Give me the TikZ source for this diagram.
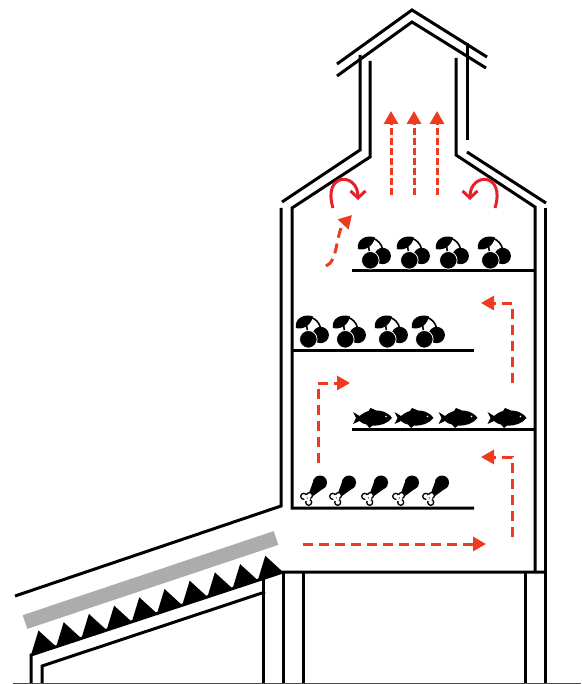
\documentclass[tikz,border=0pt]{standalone}
\usepackage{xcolor}
\usepackage{tikz}
\usetikzlibrary{arrows.meta}
\definecolor{flowRed}{RGB}{238,58,30}
\definecolor{turnRed}{RGB}{232,32,40}
\definecolor{beltGray}{RGB}{172,172,172}
\tikzset{
  wall/.style={black,line width=3pt,line join=miter},
  flow/.style={flowRed,line width=3pt,dash pattern=on 10pt off 6pt,
               -{Triangle[length=13pt,width=14pt]}},
  rise/.style={flowRed,line width=3pt,dash pattern=on 7pt off 3pt,
               -{Triangle[length=13pt,width=14pt]}},
  turn/.style={turnRed,line width=3pt,-{Straight Barb[length=7pt,width=15pt]}},
  cherry/.pic={
    \draw[black,line width=1.6pt] (-2,-30) .. controls (-8,-27) and (-5,-20) .. (-4,-14)
      (-2,-30) .. controls (4,-28) and (7,-25) .. (9,-18);
    \fill[black] (-16,-19) .. controls (-18,-28) and (-8,-34) .. (1,-30.5)
      .. controls (-1,-21) and (-10,-17) .. cycle;
    \fill[black] (8.7,-12) circle (8.2);
    \filldraw[black,draw=white,line width=0.8pt] (-3.7,-7.7) circle (8.8);
  },
  fish/.pic={
    \fill[black] (19.5,0) .. controls (15,-6.5) and (8,-7.5) .. (4,-7.5)
      -- (-2,-10) -- (-4,-7) .. controls (-8,-6) and (-11,-3.5) .. (-13,-2)
      -- (-19.5,-6) -- (-16.5,0) -- (-19.5,6) -- (-13,3)
      .. controls (-10,5.5) and (-7,6.5) .. (-6,6.5) -- (-3,10) -- (0,7.5)
      .. controls (8,8) and (15,5.5) .. (19.5,0) -- cycle;
    \fill[white] (13.5,-1.5) circle (0.9);
  },
  drumstick/.pic={
    \fill[black] (13,-15.5) circle (7);
    \fill[black] (1.5,-3.5) -- (4,-0.5) -- (19,-11.5) -- (7,-19) -- cycle;
    \filldraw[draw=black,fill=white,line width=1.3pt] (-3.3,-1.7) circle (3)
      (1.7,4.3) circle (3) (2.5,-2.5) circle (3);
    \fill[white] (0.2,0) circle (3.2);
    \fill[black] (0.2,0) circle (0.7);
  }
}
\begin{document}
\begin{tikzpicture}[x=1pt,y=-1pt]
  \useasboundingbox (0,0) rectangle (581,684);
  % roof and chimney
  \draw[wall] (337,64) -- (412,10) -- (487,57);
  \draw[wall] (337,76) -- (412,22) -- (486,68);
  \draw[wall] (360,55) -- (360,150) -- (282,202);
  \draw[wall] (370,61) -- (370,157) -- (292,208) -- (292,508) -- (474,508);
  \draw[wall] (456,58) -- (456,155) -- (535,207) -- (535,572);
  \draw[wall] (467,43) -- (467,140);
  \draw[wall] (467,152) -- (546,203);
  % walls
  \draw[wall] (281,208) -- (281,506) -- (15,596);
  \draw[wall] (545,208) -- (545,684);
  \draw[wall] (31,684) -- (31,655) -- (283,572) -- (546,572);
  \draw[wall] (42,684) -- (42,666) -- (265,592);
  \draw[wall] (263,577) -- (263,684);
  \draw[wall] (283,572) -- (283,684);
  \draw[wall] (303,572) -- (303,684);
  \draw[wall] (525,572) -- (525,684);
  \draw[black!70,line width=1.4pt] (13,683.5) -- (581,683.5);
  % shelves
  \draw[wall] (352,270) -- (535,270);
  \draw[wall] (292,350) -- (474,350);
  \draw[wall] (352,429) -- (535,429);
  % belt
  \draw[beltGray,line width=14.5pt] (25,622) -- (276,538);
  \foreach \k in {0,...,9}
    \fill[black] ({31+25.2*\k},{655-8.3*\k}) -- ++(7.5,-24.5) -- ++(17.7,16.2) -- cycle;
  % food
  \foreach \xpos in {374,413,452,494}
    \pic at (\xpos,268) {cherry};
  \foreach \xpos in {312,349,391,428}
    \pic at (\xpos,347) {cherry};
  \foreach \xpos in {372.5,414,458,507}
    \pic at (\xpos,418) {fish};
  \foreach \xpos in {307,336,368,399,429}
    \pic at (\xpos,498) {drumstick};
  % air
  \foreach \xpos in {391,414,437}
    \draw[rise] (\xpos,195) -- (\xpos,111);
  \draw[turn] (333,208) .. controls (322,172) and (358,172) .. (358,200);
  \draw[turn] (495,208) .. controls (506,172) and (470,172) .. (470,200);
  \draw[flow] (326,266) .. controls (338,262) and (336,232) .. (352,215);
  \draw[flow] (512,383) -- (512,303) -- (481,303);
  \draw[flow] (512,537) -- (512,457) -- (481,457);
  \draw[flow] (318,463) -- (318,383) -- (350,383);
  \draw[flow] (303,544) -- (486,544);
\end{tikzpicture}
\end{document}
